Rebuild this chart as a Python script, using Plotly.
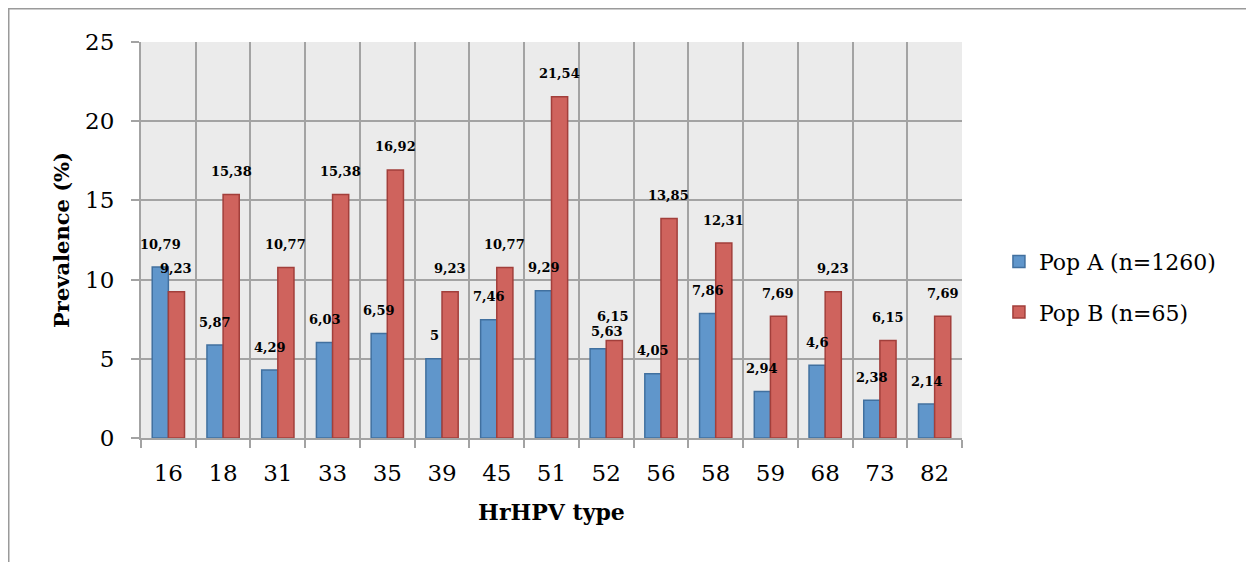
import plotly.graph_objects as go

categories = ["16", "18", "31", "33", "35", "39", "45", "51", "52", "56", "58", "59", "68", "73", "82"]
pop_a = [10.79, 5.87, 4.29, 6.03, 6.59, 5, 7.46, 9.29, 5.63, 4.05, 7.86, 2.94, 4.6, 2.38, 2.14]
pop_b = [9.23, 15.38, 10.77, 15.38, 16.92, 9.23, 10.77, 21.54, 6.15, 13.85, 12.31, 7.69, 9.23, 6.15, 7.69]
name_a = "Pop A (n=1260)"
name_b = "Pop B (n=65)"
y_ticks = [0, 5, 10, 15, 20, 25]

SERIF = "DejaVu Serif"

def fmt(v):
    return str(v).replace(".", ",")

fig = go.Figure()
fig.add_trace(go.Bar(x=categories, y=pop_a, name=name_a, legendgroup="a",
                     marker=dict(color="#6096cb", line=dict(color="#41709f", width=1.5))))
fig.add_trace(go.Bar(x=categories, y=pop_b, name=name_b, legendgroup="b",
                     marker=dict(color="#cf635d", line=dict(color="#a23f3b", width=1.5))))

# label nudges (pixels) where the original moved labels apart
nudge_a = {"52": (1, 17)}
nudge_b = {"52": (7, 24)}

annotations = []
for i, (c, a, b) in enumerate(zip(categories, pop_a, pop_b)):
    xa, ya = nudge_a.get(c, (-8, 23))
    xb, yb = nudge_b.get(c, (8, 23))
    annotations.append(dict(x=i, y=a, xref="x", yref="y", text="<b>" + fmt(a) + "</b>", showarrow=False,
                            xshift=xa, yshift=ya, font=dict(family=SERIF, size=13, color="#000")))
    annotations.append(dict(x=i, y=b, xref="x", yref="y", text="<b>" + fmt(b) + "</b>", showarrow=False,
                            xshift=xb, yshift=yb, font=dict(family=SERIF, size=13, color="#000")))

W, H = 1246, 554
L, T, PW, PH = 133, 34, 821, 396

fig.update_layout(
    width=W, height=H,
    margin=dict(l=L, r=W - L - PW, t=T, b=H - T - PH),
    paper_bgcolor="white", plot_bgcolor="#ebebeb",
    barmode="group", bargap=0.41, bargroupgap=0,
    font=dict(family=SERIF, color="#000"),
    legend=dict(x=1.045, y=0.381, xanchor="left", yanchor="middle", traceorder="grouped",
                font=dict(family=SERIF, size=22), tracegroupgap=19, itemwidth=30),
    annotations=annotations,
    shapes=[dict(type="rect", xref="paper", yref="paper",
                 x0=(0.75 - L) / PW, x1=(1241 - L) / PW,
                 y0=(T + PH - 600) / PH, y1=(T + PH - 0.75) / PH,
                 line=dict(color="#9a9a9a", width=1.5), layer="below")],
)
fig.update_xaxes(type="category", range=[-0.5, len(categories) - 0.5], tickson="boundaries",
                 showgrid=True, gridcolor="#a3a3a3", gridwidth=2,
                 ticks="outside", ticklen=8, tickcolor="#a3a3a3", tickwidth=2, tickangle=0,
                 showline=True, linecolor="#a3a3a3", linewidth=2, mirror=False,
                 tickfont=dict(family=SERIF, size=23), ticklabelstandoff=13,
                 title=dict(text="<b>HrHPV type</b>", font=dict(family=SERIF, size=22), standoff=20))
fig.update_yaxes(range=[0, 25], tickvals=y_ticks, showgrid=True, gridcolor="#a3a3a3", gridwidth=2,
                 ticks="outside", ticklen=8, tickcolor="#a3a3a3", tickwidth=2,
                 showline=True, linecolor="#a3a3a3", linewidth=2, zeroline=False,
                 tickfont=dict(family=SERIF, size=23), ticklabelstandoff=12,
                 title=dict(text="<b>Prevalence (%)</b>", font=dict(family=SERIF, size=21), standoff=10))

fig.write_html("out.html")
